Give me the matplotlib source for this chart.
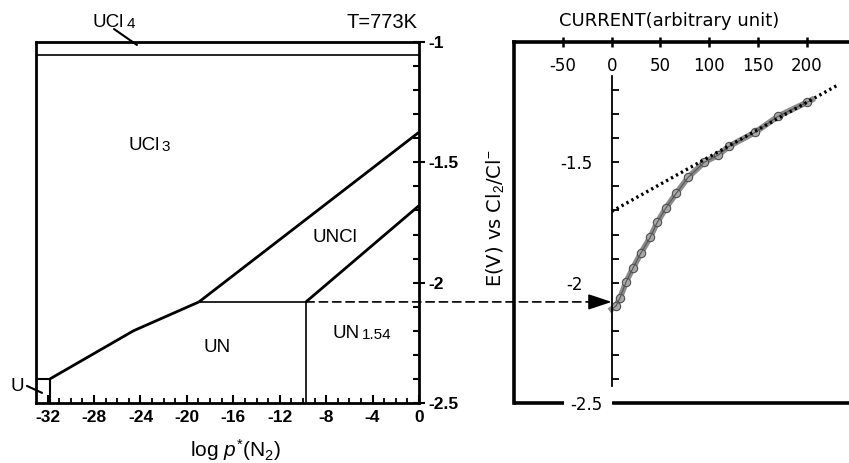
import matplotlib
matplotlib.use('Agg')
import matplotlib.pyplot as plt
from matplotlib.patches import ConnectionPatch
from matplotlib.ticker import FixedLocator
import numpy as np

plt.rcParams['font.family'] = ['Liberation Sans', 'DejaVu Sans']
plt.rcParams['mathtext.fontset'] = 'custom'
plt.rcParams['mathtext.rm'] = 'Liberation Sans'
plt.rcParams['mathtext.it'] = 'Liberation Sans:italic'

# left panel: phase boundaries, log p*(N2) vs E(V)
ucl4_x = [-33, 0]
ucl4_e = [-1.054, -1.054]
u_box_x = [-33, -31.8, -31.8]
u_box_e = [-2.40, -2.40, -2.50]
u_un_x = [-31.8, -24.6, -18.96]
u_un_e = [-2.40, -2.20, -2.08]
ucl3_uncl_x = [-18.96, 0]
ucl3_uncl_e = [-2.08, -1.375]
un_uncl_x = [-18.96, -9.74]
un_uncl_e = [-2.08, -2.08]
un_un154_x = [-9.74, -9.74]
un_un154_e = [-2.08, -2.50]
uncl_un154_x = [-9.74, 0]
uncl_un154_e = [-2.08, -1.68]

left_xticks = list(range(-32, 1, 4))
left_yticks = [-2.5, -2.0, -1.5, -1.0]
left_ylabels = ['-2.5', '-2', '-1.5', '-1']

# right panel: measured current-potential curve
current = [0, 4.6, 8.7, 14.9, 22.0, 30.2, 39.4, 46.6, 55.8, 66.1, 78.4,
           94.8, 109, 120.4, 147, 170.6, 200.3, 205]
potential = [-2.11, -2.096, -2.062, -1.996, -1.938, -1.875, -1.812, -1.75,
             -1.688, -1.629, -1.562, -1.50, -1.47, -1.433, -1.375, -1.308,
             -1.25, -1.24]
fit_current = [0, 231]
fit_potential = [-1.704, -1.18]

right_xticks = [-50, 0, 50, 100, 150, 200]
right_yticks = [-2.5, -2.0, -1.5]
right_ylabels = ['-2.5', '-2', '-1.5']
right_ypads = [6.5, 21, 13.5]

e_deposit = -2.08

fig = plt.figure(figsize=(8.49, 4.63), dpi=100)
ax1 = fig.add_axes([0.0424, 0.1296, 0.4511, 0.7797])
ax2 = fig.add_axes([0.6054, 0.1296, 0.3946, 0.7797])


def phase_label(ax, x, y, main, sub, **kw):
    # formula with a smaller trailing number sitting on the baseline
    t = ax.text(x, y, main, fontsize=13.5, va='baseline', **kw)
    ax.annotate(sub, xy=(1, 0), xycoords=t, xytext=(1.5, 0),
                textcoords='offset points', fontsize=11, va='bottom')
    return t


# ---- left panel
for xs, es, lw in [(ucl4_x, ucl4_e, 1.2), (u_box_x, u_box_e, 1.5),
                   (u_un_x, u_un_e, 2.0), (ucl3_uncl_x, ucl3_uncl_e, 2.0),
                   (un_uncl_x, un_uncl_e, 1.2), (un_un154_x, un_un154_e, 1.2),
                   (uncl_un154_x, uncl_un154_e, 2.0)]:
    ax1.plot(xs, es, color='black', lw=lw, solid_capstyle='butt')

ax1.set_xlim(-33, 0)
ax1.set_ylim(-2.5, -1)
for s in ax1.spines.values():
    s.set_linewidth(2)
ax1.set_xticks(left_xticks)
ax1.set_xticklabels([str(t) for t in left_xticks])
ax1.xaxis.set_minor_locator(FixedLocator(np.arange(-32, 1, 1)))
ax1.yaxis.tick_right()
ax1.set_yticks(left_yticks)
ax1.set_yticklabels(left_ylabels)
ax1.yaxis.set_minor_locator(FixedLocator(np.arange(-2.4, -1.05, 0.1)))
ax1.tick_params(axis='x', which='major', direction='in', length=6, width=1.5,
                pad=5, labelsize=12.5)
ax1.tick_params(axis='x', which='minor', direction='in', length=3.5, width=1.3)
ax1.tick_params(axis='y', which='major', direction='inout', length=8, width=1.5,
                pad=3, labelsize=12.5)
ax1.tick_params(axis='y', which='minor', direction='in', length=4, width=1.5)
for lab in ax1.get_xticklabels() + ax1.get_yticklabels():
    lab.set_fontweight('bold')

phase_label(ax1, -28.1, -0.9375, 'UCl', '4', clip_on=False)
ax1.annotate('', xy=(-24.3, -1.0125), xytext=(-26.28, -0.946),
             arrowprops=dict(arrowstyle='-', lw=1.5, color='black',
                             shrinkA=0, shrinkB=0), annotation_clip=False)
ax1.text(-0.1, -0.94, 'T=773K', fontsize=14.5, ha='right', va='baseline',
         clip_on=False)
phase_label(ax1, -25.07, -1.45, 'UCl', '3')
ax1.text(-7.24, -1.8125, 'UNCl', fontsize=13.5, ha='center', va='center')
ax1.text(-17.4, -2.27, 'UN', fontsize=13.5, ha='center', va='center')
phase_label(ax1, -7.41, -2.229, 'UN', '1.54')
ax1.text(-34.65, -2.433, 'U', fontsize=13.5, ha='center', va='center',
         clip_on=False)
ax1.annotate('', xy=(-32.48, -2.458), xytext=(-33.78, -2.429),
             arrowprops=dict(arrowstyle='-', lw=1.5, color='black',
                             shrinkA=0, shrinkB=0), annotation_clip=False)
ax1.set_xlabel(r'log $\mathit{p}^{*}$(N$_2$)', fontsize=15)
ax1.xaxis.set_label_coords(0.522, -0.095)

# ---- right panel
ax2.plot(current, potential, color='#8c8c8c', lw=4.2, marker='o', ms=6,
         mfc='#a8a8a8', mec='#505050', mew=0.8, markevery=slice(1, -1),
         zorder=2)
ax2.plot(current, potential, color='#555555', lw=0.8, zorder=2)
ax2.plot(fit_current, fit_potential, color='black', lw=2.4,
         linestyle=(0, (0.7, 1.0)), zorder=3)

ax2.set_xlim(-100, 243)
ax2.set_ylim(-2.5, -1)
ax2.spines['right'].set_visible(False)
ax2.spines['top'].set_linewidth(2.6)
ax2.spines['bottom'].set_linewidth(2.6)
ax2.spines['bottom'].set_bounds(2.5, 243)
ax2.spines['left'].set_position(('data', 0))
ax2.spines['left'].set_bounds(-2.43, -1.14)
ax2.spines['left'].set_linewidth(1.3)
ax2.axvline(-100, color='black', lw=2.6, clip_on=False)
ax2.axhline(-2.5, xmin=0, xmax=51 / 343, color='black', lw=2.6,
            clip_on=False, solid_capstyle='butt')

ax2.xaxis.tick_top()
ax2.set_xticks(right_xticks)
ax2.set_xticklabels([str(t) for t in right_xticks], family='DejaVu Sans')
ax2.tick_params(axis='x', direction='inout', length=7, width=1.8, pad=-27,
                labelsize=12)
ax2.set_yticks(right_yticks)
ax2.set_yticklabels(right_ylabels, family='DejaVu Sans')
ax2.yaxis.set_minor_locator(FixedLocator(np.arange(-2.4, -1.15, 0.1)))
ax2.tick_params(axis='y', which='both', direction='in', length=5, width=1.3,
                labelsize=12)
for tick, pad in zip(ax2.yaxis.get_major_ticks(), right_ypads):
    tick.set_pad(pad)

fig.text(669 / 849, 1 - 21 / 463, 'CURRENT(arbitrary unit)', fontsize=13,
         family='DejaVu Sans', ha='center', va='center')
fig.text(495 / 849, 1 - 218 / 463, r'E(V) vs Cl$_2$/Cl$^{-}$', fontsize=14,
         family='DejaVu Sans', rotation=90, ha='center', va='center')

# dashed link from the UN / UN1.54 boundary to the onset of deposition
link = ConnectionPatch(xyA=(-9.74, e_deposit), coordsA=ax1.transData,
                       xyB=(-20, e_deposit), coordsB=ax2.transData,
                       color='black', lw=1.2, linestyle=(0, (5, 3)))
fig.add_artist(link)
ax2.annotate('', xy=(0, e_deposit), xytext=(-20, e_deposit),
             arrowprops=dict(arrowstyle='-|>,head_length=1.2,head_width=0.4',
                             mutation_scale=12, color='black', lw=1.2,
                             shrinkA=0, shrinkB=0), annotation_clip=False)

fig.savefig('out.png', dpi=100)
